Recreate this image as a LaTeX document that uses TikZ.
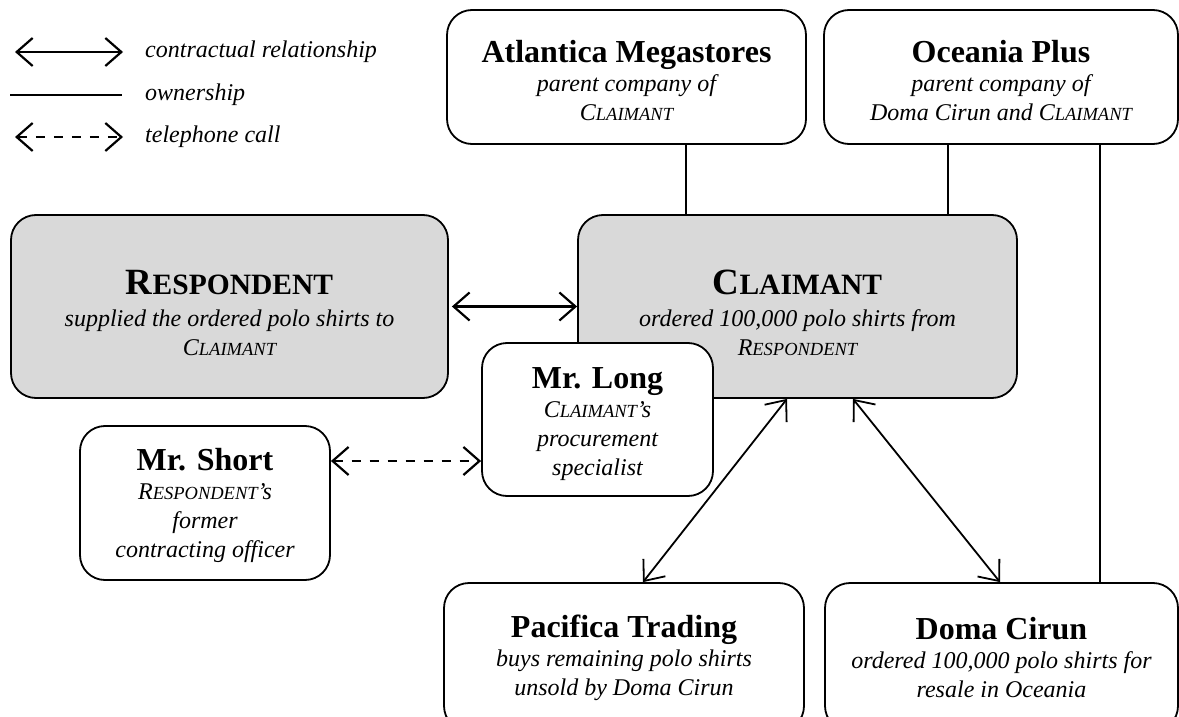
\documentclass[tikz,border=0pt]{standalone}
\usepackage{fontspec}
\setmainfont{Liberation Serif}
\usetikzlibrary{arrows.meta}
\definecolor{boxgray}{HTML}{D9D9D9}
\newcommand\SCi[2]{#1{\fontsize{18.5}{29}\selectfont #2}}
\newcommand\SCb[2]{#1{\fontsize{29.5}{29}\selectfont #2}}
\newcommand\ttl[1]{{\upshape\bfseries\fontsize{32}{29}\selectfont #1}}
\newcommand\bigttl[1]{{\upshape\bfseries\fontsize{37}{29}\selectfont #1}}
\begin{document}
\begin{tikzpicture}[x=1pt,y=-1pt,
  box/.style={draw, line width=1.8pt, rounded corners=25pt, inner sep=0pt, fill=white},
  gbox/.style={box, fill=boxgray},
  txt/.style={align=center, inner sep=0pt, font=\fontsize{24}{29}\selectfont\itshape},
  contract/.style={line width=2.2pt, {Straight Barb[length=16pt,width=28pt]}-{Straight Barb[length=16pt,width=28pt]}},
  contractd/.style={line width=1.8pt, {Straight Barb[length=17pt,width=28pt]}-{Straight Barb[length=17pt,width=28pt]}},
  phone/.style={contract, dash pattern=on 9pt off 9pt},
  own/.style={line width=2.8pt},
  legtext/.style={anchor=west, inner sep=0pt, font=\fontsize{24}{29}\selectfont\itshape}]
\useasboundingbox (0,0) rectangle (1179,717);
% legend
\coordinate (la1) at (15,52);  \coordinate (la2) at (123,52);
\coordinate (lb1) at (10,95);  \coordinate (lb2) at (122,95);
\coordinate (lc1) at (15,137); \coordinate (lc2) at (123,137);
\draw[contract] (la1) -- (la2);
\draw[own] (lb1) -- (lb2);
\draw[phone] (lc1) -- (lc2);
\node[legtext] (lg1) at (145,52) {contractual relationship};
\node[legtext] (lg2) at (145,95) {ownership};
\node[legtext] (lg3) at (145,137) {telephone call};
% boxes
\node[box, minimum width=359pt, minimum height=134pt] (atl) at (626.5,77) {};
\node[txt] (atlT) at ([yshift=-4pt]atl.center)
  {\ttl{Atlantica Megastores}\\ parent company of\\ \SCi{C}{LAIMANT}};
\node[box, minimum width=354pt, minimum height=134pt] (oce) at (1001,77) {};
\node[txt] (oceT) at ([yshift=-4pt]oce.center)
  {\ttl{Oceania Plus}\\ parent company of\\ Doma Cirun and \SCi{C}{LAIMANT}};
\node[gbox, minimum width=437pt, minimum height=183pt] (resp) at (229.5,306.5) {};
\node[txt] (respT) at ([yshift=-6pt]resp.center)
  {\bigttl{\SCb{R}{ESPONDENT}}\\[3pt] supplied the ordered polo shirts to\\ \SCi{C}{LAIMANT}};
\node[gbox, minimum width=439pt, minimum height=183pt] (claim) at (797.5,306.5) {};
\node[txt] (claimT) at ([yshift=-6pt]claim.center)
  {\bigttl{\SCb{C}{LAIMANT}}\\[3pt] ordered 100,000 polo shirts from\\ \SCi{R}{ESPONDENT}};
\node[box, minimum width=231pt, minimum height=153pt] (long) at (597.5,419.5) {};
\node[txt] (longT) at ([yshift=-5pt]long.center)
  {\ttl{Mr. Long}\\ \SCi{C}{LAIMANT}’s\\ procurement\\ specialist};
\node[box, minimum width=250pt, minimum height=154pt] (short) at (205,503) {};
\node[txt] (shortT) at ([yshift=-2pt]short.center)
  {\ttl{Mr. Short}\\ \SCi{R}{ESPONDENT}’s\\ former\\ contracting officer};
\node[box, minimum width=360pt, minimum height=148pt] (pac) at (624,657) {};
\node[txt] (pacT) at ([yshift=-1pt]pac.center)
  {\ttl{Pacifica Trading}\\ buys remaining polo shirts\\ unsold by Doma Cirun};
\node[box, minimum width=353pt, minimum height=148pt] (doma) at (1001.5,657) {};
\node[txt] (domaT) at ([yshift=-1pt]doma.center)
  {\ttl{Doma Cirun}\\ ordered 100,000 polo shirts for\\ resale in Oceania};
% ownership lines
\coordinate (xa) at (686,0);
\coordinate (xb) at (948,0);
\coordinate (xc) at (1100,0);
\draw[own] (atl.south -| xa) -- (claim.north -| xa);
\draw[own] (oce.south -| xb) -- (claim.north -| xb);
\draw[own] (oce.south -| xc) -- (doma.north -| xc);
% contractual relations
\draw[contract, shorten <=3pt] (resp.east) -- (claim.west);
\coordinate (x1) at (787,0); \coordinate (x2) at (643,0);
\coordinate (x3) at (853,0); \coordinate (x4) at (1000,0);
\draw[contractd] (claim.south -| x1) -- (pac.north -| x2);
\draw[contractd] (claim.south -| x3) -- (doma.north -| x4);
% telephone
\coordinate (yt) at (0,461);
\draw[phone] (short.east |- yt) -- (long.west |- yt);
\end{tikzpicture}
\end{document}
